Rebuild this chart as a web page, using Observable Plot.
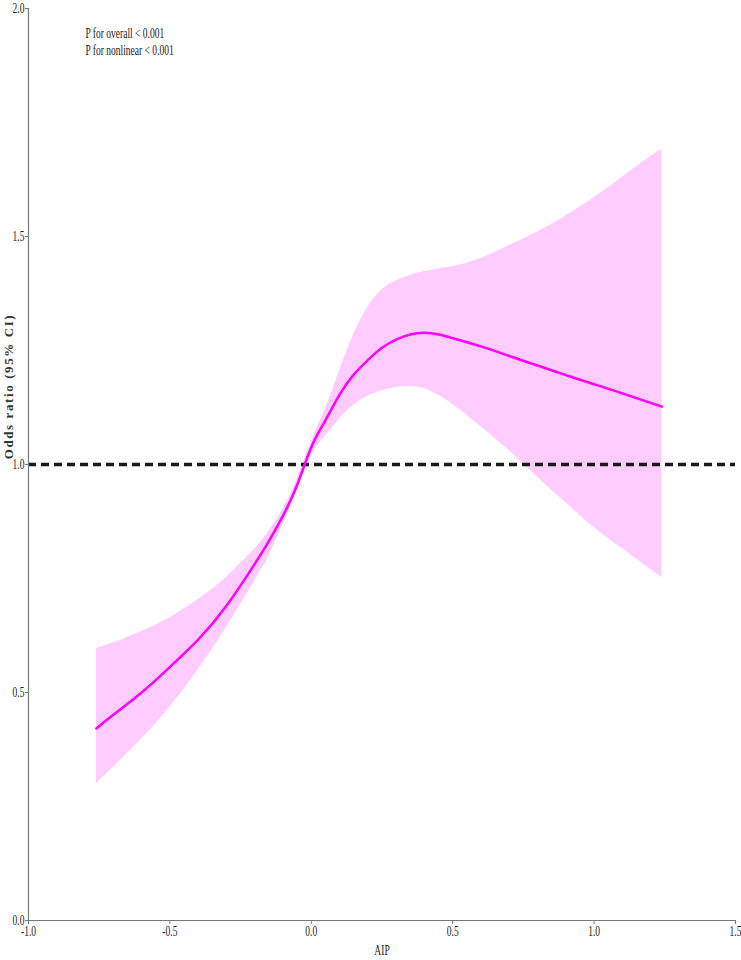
<!DOCTYPE html>
<html>
<head>
<meta charset="utf-8">
<script src="https://cdn.jsdelivr.net/npm/d3@7"></script>
<script src="https://cdn.jsdelivr.net/npm/@observablehq/plot@0.6"></script>
<style>
  html, body { margin: 0; padding: 0; background: #fff; }
  #chart svg { display: block; }
</style>
</head>
<body>
<div id="chart"></div>
<script>
// AIP values (x) and odds ratio with 95% CI
const aip = [-0.76, -0.7, -0.6, -0.5, -0.4, -0.3, -0.2, -0.15, -0.1, -0.05, 0.0, 0.05, 0.1, 0.15, 0.2, 0.25, 0.3, 0.35, 0.4, 0.45, 0.5, 0.6, 0.7, 0.8, 0.9, 1.0, 1.1, 1.2, 1.24];
const oddsRatio = [0.421, 0.451, 0.500, 0.556, 0.616, 0.690, 0.782, 0.832, 0.888, 0.955, 1.038, 1.097, 1.153, 1.197, 1.229, 1.256, 1.274, 1.285, 1.289, 1.285, 1.277, 1.259, 1.238, 1.217, 1.196, 1.176, 1.156, 1.135, 1.127];
const lowerCI = [0.300, 0.336, 0.398, 0.468, 0.550, 0.643, 0.745, 0.800, 0.868, 0.945, 1.020, 1.062, 1.100, 1.130, 1.150, 1.162, 1.169, 1.171, 1.166, 1.152, 1.132, 1.083, 1.030, 0.972, 0.916, 0.862, 0.815, 0.770, 0.752];
const upperCI = [0.596, 0.609, 0.634, 0.664, 0.704, 0.753, 0.815, 0.853, 0.902, 0.968, 1.050, 1.122, 1.205, 1.285, 1.345, 1.383, 1.403, 1.415, 1.423, 1.429, 1.434, 1.452, 1.480, 1.510, 1.545, 1.585, 1.630, 1.675, 1.691];
const xTicks = [-1.0, -0.5, 0.0, 0.5, 1.0, 1.5];
const yTicks = [0.0, 0.5, 1.0, 1.5, 2.0];
const refLine = [1];
const annotation = ["P for overall < 0.001\nP for nonlinear < 0.001"];

const data = aip.map((x, i) => ({x, or: oddsRatio[i], lo: lowerCI[i], hi: upperCI[i]}));
const fmt = d => d.toFixed(1);

const plot = Plot.plot({
  width: 741,
  height: 960,
  marginLeft: 28,
  marginRight: 6,
  marginTop: 8,
  marginBottom: 40,
  style: {fontFamily: "'Liberation Serif', serif", fontSize: "14px", color: "#222", background: "#fff"},
  x: {domain: [-1, 1.5]},
  y: {domain: [0, 2]},
  marks: [
    Plot.areaY(data, {x: "x", y1: "lo", y2: "hi", fill: "#ffccff", curve: "natural"}),
    Plot.ruleY(refLine, {stroke: "#1a1a1a", strokeWidth: 3.5, strokeDasharray: "8,5"}),
    Plot.lineY(data, {x: "x", y: "or", stroke: "#ff00ff", strokeWidth: 2.5, curve: "natural"}),
    Plot.ruleX([-1], {stroke: "#777", strokeWidth: 1.2}),
    Plot.ruleY([0], {stroke: "#777", strokeWidth: 1.2}),
    Plot.axisX({ticks: xTicks, tickFormat: fmt, tickSize: 4, tickPadding: 2, stroke: "#777", label: null, fill: "#222"}),
    Plot.axisY({ticks: yTicks, tickFormat: fmt, tickSize: 3, tickPadding: 1, stroke: "#777", label: null, fill: "#222"}),
    Plot.text(["AIP"], {frameAnchor: "bottom", dy: 34, fontSize: 14, fill: "#222"}),
    Plot.text(["Odds ratio (95% CI)"], {frameAnchor: "left", rotate: -90, textAnchor: "middle", dx: -20, dy: -78, fontSize: 13, fontWeight: "bold", fill: "#333", className: "ytitle"}),
    Plot.text(annotation, {frameAnchor: "top-left", dx: 57, dy: 17, textAnchor: "start", lineAnchor: "top", lineHeight: 1.25, fontSize: 14, fill: "#222"})
  ]
});

// condense the serif text horizontally, as in the reference
plot.querySelectorAll("text").forEach(t => {
  if (t.closest(".ytitle")) { t.setAttribute("letter-spacing", "1.6"); return; }
  const tr = t.getAttribute("transform") || "";
  t.setAttribute("transform", (tr + " scale(0.68,1)").trim());
});

document.getElementById("chart").appendChild(plot);
</script>
</body>
</html>
